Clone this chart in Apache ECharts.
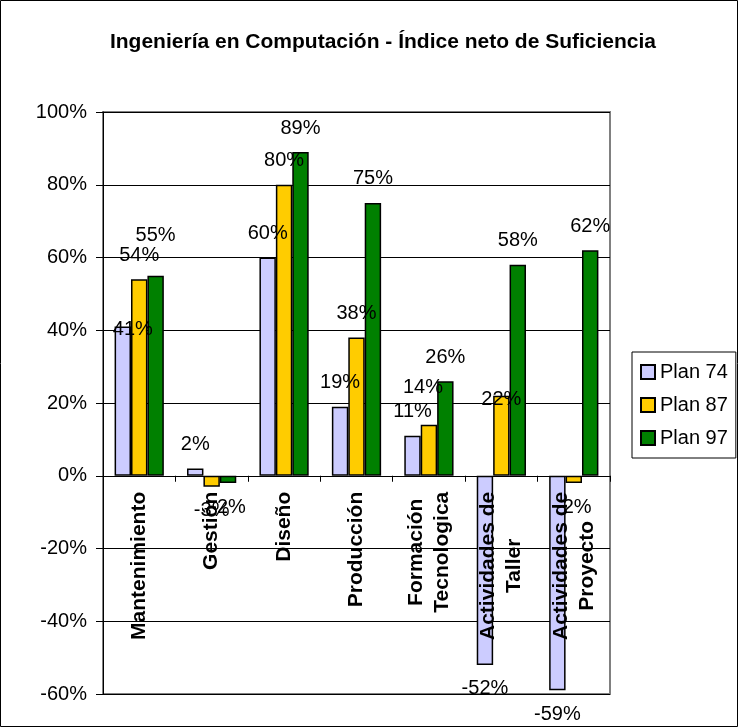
<!DOCTYPE html>
<html>
<head>
<meta charset="utf-8">
<script src="https://cdn.jsdelivr.net/npm/echarts@6/dist/echarts.min.js"></script>
<style>
html,body{margin:0;padding:0;background:#fff;}
#c{width:739px;height:728px;}
</style>
</head>
<body>
<div id="c"></div>
<script>
const categories = ['Mantenimiento', 'Gestión', 'Diseño', 'Producción', 'Formación\nTecnologica', 'Actividades de\nTaller', 'Actividades de\nProyecto'];
const seriesNames = ['Plan 74', 'Plan 87', 'Plan 97'];
const plan74 = [41, 2, 60, 19, 11, -52, -59];
const plan87 = [54, -3, 80, 38, 14, 22, -2];
const plan97 = [55, -2, 89, 75, 26, 58, 62];
const yMin = -60, yMax = 100, yStep = 20;

const colors = ['#CCCCFF', '#FFCC00', '#008000'];
// label nudges (style only), keyed by series index and category index
const labelNudge = {
  '0-0': [10, 27],
  '1-4': [-6, -13],
  '1-5': [0, 28],
  '2-0': [0, -16]
};
const FONT = '"Liberation Sans", Arial, sans-serif';
const GRID = { left: 103, right: 129, top: 112, bottom: 34 };
const plotH = 728 - GRID.top - GRID.bottom;
// move the category axis from the grid bottom up to the zero line
const zeroOffset = -plotH * (0 - yMin) / (yMax - yMin);

function makeData(vals, si) {
  return vals.map((v, i) => {
    const off = labelNudge[si + '-' + i] || [0, 0];
    return {
      value: v,
      label: { position: v < 0 ? 'bottom' : 'top', offset: off }
    };
  });
}

const chart = echarts.init(document.getElementById('c'), null, { renderer: 'canvas' });
const seriesVals = [plan74, plan87, plan97];

chart.setOption({
  animation: false,
  backgroundColor: '#fff',
  textStyle: { fontFamily: FONT },
  title: {
    text: 'Ingeniería en Computación - Índice neto de Suficiencia',
    left: 378, top: 27, textAlign: 'center',
    textStyle: { fontFamily: FONT, fontSize: 21, fontWeight: 'bold', color: '#000' }
  },
  legend: {
    orient: 'vertical',
    left: 632, top: 352,
    padding: [10, 8, 10, 8],
    itemGap: 13,
    itemWidth: 14, itemHeight: 14,
    borderColor: '#000', borderWidth: 1,
    icon: 'rect',
    textStyle: { fontFamily: FONT, fontSize: 20, color: '#000' },
    data: seriesNames
  },
  grid: {
    left: GRID.left, right: GRID.right, top: GRID.top, bottom: GRID.bottom,
    show: true, borderColor: '#808080', borderWidth: 2,
    containLabel: false, outerBoundsMode: 'none'
  },
  xAxis: {
    type: 'category',
    data: categories,
    position: 'bottom',
    offset: zeroOffset,
    z: 10,
    axisLine: { onZero: false, lineStyle: { color: '#000', width: 1 } },
    axisTick: { show: true, length: 6, lineStyle: { color: '#000' } },
    axisLabel: {
      interval: 0, rotate: 90, margin: 16,
      fontFamily: FONT, fontSize: 21, fontWeight: 'bold', color: '#000',
      formatter: function (v) {
        return v.split('\n').map(l => '{c|' + l + '}').join('\n');
      },
      rich: {
        c: { align: 'center', fontFamily: FONT, fontSize: 21, fontWeight: 'bold', color: '#000', lineHeight: 26 }
      }
    }
  },
  yAxis: {
    type: 'value',
    min: yMin, max: yMax, interval: yStep,
    axisLine: { show: true, lineStyle: { color: '#000', width: 1 } },
    axisTick: { show: true, length: 7, lineStyle: { color: '#000' } },
    axisLabel: { formatter: '{value}%', margin: 16, fontFamily: FONT, fontSize: 20, color: '#000' },
    splitLine: { show: true, lineStyle: { color: '#000', width: 1 } }
  },
  series: seriesNames.map((name, si) => ({
    name: name,
    type: 'bar',
    data: makeData(seriesVals[si], si),
    barGap: '0%',
    barCategoryGap: '32%',
    itemStyle: { color: colors[si], borderColor: '#000', borderWidth: 1.5 },
    label: {
      show: true, distance: 14,
      formatter: '{c}%',
      fontFamily: FONT, fontSize: 20, color: '#000'
    }
  })),
  graphic: [{
    type: 'rect',
    shape: { x: 0.5, y: 0.5, width: 737, height: 726 },
    style: { fill: null, stroke: '#000', lineWidth: 1 },
    z: 100
  }]
});
</script>
</body>
</html>
